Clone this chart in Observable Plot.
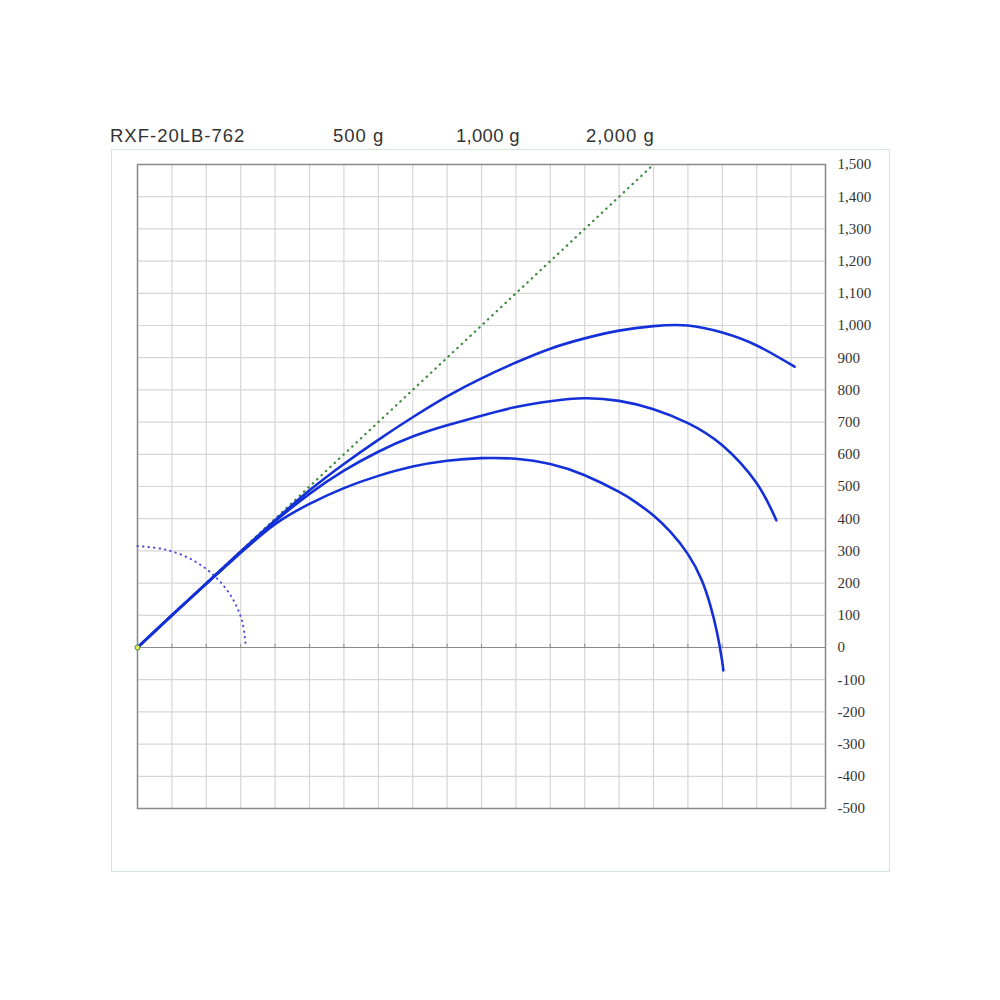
<!DOCTYPE html>
<html><head><meta charset="utf-8">
<script src="https://cdn.jsdelivr.net/npm/d3@7"></script>
<script src="https://cdn.jsdelivr.net/npm/@observablehq/plot@0.6"></script>
<style>
body{margin:0;background:#fff;}
#wrap{position:relative;width:1000px;height:1000px;overflow:hidden;}
#frame{position:absolute;left:111px;top:149px;width:777px;height:721px;border:1px solid #d4e6d4;}
.t{position:absolute;top:126px;font-family:"Liberation Sans",Arial,sans-serif;font-size:18.5px;line-height:20px;color:#333;letter-spacing:1px;white-space:nowrap;}
#chart{position:absolute;left:0;top:0;}
</style></head>
<body>
<div id="wrap">
  <div id="frame"></div>
  <div id="chart"></div>
</div>
<script>
// ---- data ----
const modelName = "RXF-20LB-762";
const seriesNames = ["500 g", "1,000 g", "2,000 g"];
const seriesLabelLeft = [333, 456, 586];

const x500  = [0, 100, 200, 300, 400, 500, 600, 700, 800, 900, 1000, 1100, 1200, 1300, 1400, 1450, 1500, 1550, 1600, 1640, 1666, 1685, 1699, 1703];
const y500  = [0, 100, 198, 294, 383, 446, 495, 533, 562, 580, 588, 586, 570, 535, 483, 450, 410, 358, 290, 210, 128, 45, -38, -71];

const x1000 = [0, 100, 200, 300, 400, 500, 600, 700, 800, 900, 1000, 1100, 1200, 1300, 1400, 1500, 1600, 1700, 1800, 1857];
const y1000 = [0, 100, 199, 297, 392, 477, 549, 608, 655, 690, 720, 747, 765, 774, 766, 740, 697, 628, 510, 395];

const x2000 = [0, 100, 200, 300, 400, 500, 600, 700, 800, 900, 1000, 1100, 1200, 1300, 1400, 1500, 1600, 1700, 1800, 1910];
const y2000 = [0, 100, 199, 298, 395, 488, 570, 645, 715, 780, 836, 885, 928, 960, 984, 998, 1000, 978, 938, 872];

// straight reference (no-load) line
const refX = [0, 1500];
const refY = [0, 1500];

// quarter arc near origin
const arcX = [0, 82, 158, 223, 273, 304, 315];
const arcY = [315, 304, 273, 223, 158, 82, 0];

const xGrid = d3.range(0, 2001, 100);
const yTicks = d3.range(-500, 1501, 100);

// ---- build ----
document.querySelector("#wrap").insertAdjacentHTML("beforeend",
  `<div class="t" style="left:110px">${modelName}</div>` +
  seriesNames.map((s, i) => `<div class="t" style="left:${seriesLabelLeft[i]}px${i === 1 ? ";letter-spacing:0.3px" : ""}">${s}</div>`).join(""));

const toPts = (xs, ys, name) => xs.map((x, i) => ({x, y: ys[i], name}));
const curves = [
  ...toPts(x500, y500, seriesNames[0]),
  ...toPts(x1000, y1000, seriesNames[1]),
  ...toPts(x2000, y2000, seriesNames[2])
];
const refPts = toPts(refX, refY, "ref");
const arcPts = toPts(arcX, arcY, "arc");

const fmt = d => d3.format(",")(d).replace("\u2212", "-");

const chart = Plot.plot({
  width: 1000,
  height: 1000,
  marginLeft: 137,
  marginRight: 175,
  marginTop: 164,
  marginBottom: 192,
  style: {fontFamily: "'Liberation Serif', 'Times New Roman', serif", fontSize: "15px", color: "#333", background: "transparent"},
  x: {domain: [0, 2000], axis: null, label: null},
  y: {domain: [-500, 1500], axis: null, label: null},
  marks: [
    Plot.ruleX(xGrid, {stroke: "#d6d6d6", strokeWidth: 1.2}),
    Plot.ruleY(yTicks, {stroke: "#d6d6d6", strokeWidth: 1.2}),
    Plot.ruleY([0], {stroke: "#8a8a8a", strokeWidth: 1.2}),
    Plot.ruleX(xGrid, {y1: 0, y2: 10, stroke: "#8a8a8a", strokeWidth: 1}),
    Plot.frame({stroke: "#8a8a8a", strokeWidth: 1.5}),
    Plot.axisY({anchor: "right", ticks: yTicks, tickSize: 0, tickPadding: 12, tickFormat: fmt, textAnchor: "start", label: null}),
    Plot.line(refPts, {x: "x", y: "y", stroke: "#3d8a3d", strokeWidth: 2.2, strokeDasharray: "0.5 5.5", strokeLinecap: "round"}),
    Plot.line(arcPts, {x: "x", y: "y", curve: "catmull-rom", stroke: "#4a4ad6", strokeWidth: 2, strokeDasharray: "0.5 5", strokeLinecap: "round"}),
    Plot.line(curves, {x: "x", y: "y", z: "name", curve: "natural", stroke: "#1430d8", strokeWidth: 2.6}),
    Plot.dot([{x: 0, y: 0}], {x: "x", y: "y", r: 2.5, fill: "#e8f060", stroke: "#3d8a3d", strokeWidth: 1})
  ]
});
document.querySelector("#chart").appendChild(chart);
</script>
</body></html>
